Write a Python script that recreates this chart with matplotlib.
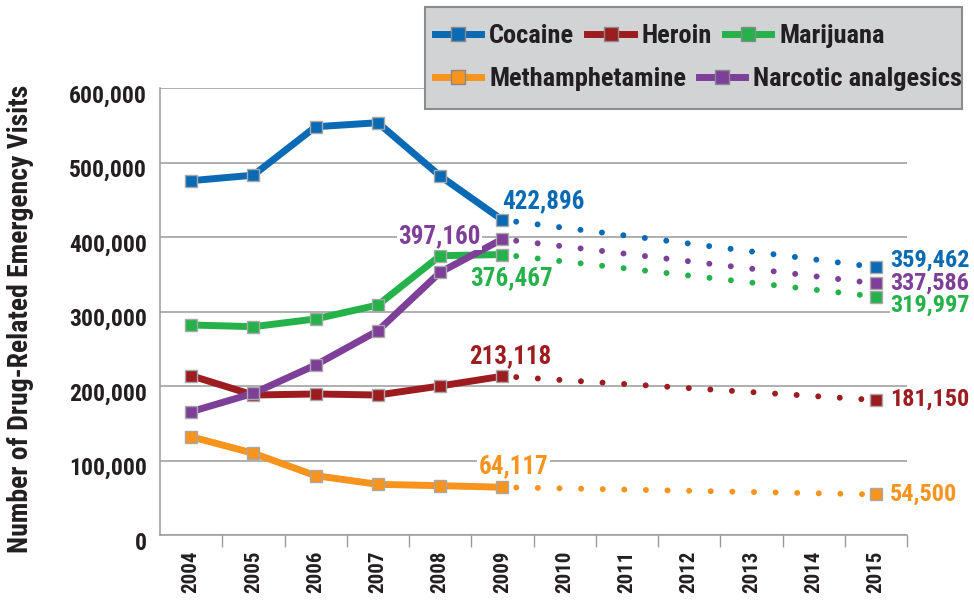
import numpy as np
import matplotlib
matplotlib.use("Agg")
import matplotlib.pyplot as plt
from matplotlib import font_manager as fm
from matplotlib.lines import Line2D
from matplotlib.patches import Rectangle
from matplotlib.transforms import ScaledTranslation

# pick a narrow bold face if one is around (the original uses a condensed sans)
ttf = fm.fontManager.ttflist
names = {f.name for f in ttf}
family, stretch = None, 'normal'
for fam in ['Roboto Condensed', 'Liberation Sans Narrow', 'Noto Sans Condensed',
            'Open Sans Condensed', 'DejaVu Sans Condensed', 'Arial Narrow']:
    if fam in names:
        family = fam
        break
if family is None:
    narrow = [f for f in ttf if f.stretch in ('condensed', 'semi-condensed')
              and f.weight in ('bold', 700, 600, 'semibold')]
    if narrow:
        pref = [f for f in narrow if f.stretch == 'condensed'] or narrow
        family, stretch = pref[0].name, pref[0].stretch
    else:
        family = 'Roboto'

plt.rcParams['font.family'] = [family, 'DejaVu Sans']
plt.rcParams['font.stretch'] = stretch
plt.rcParams['font.weight'] = 'bold'
plt.rcParams['axes.labelweight'] = 'bold'
plt.rcParams['lines.scale_dashes'] = False

years = ["2004", "2005", "2006", "2007", "2008", "2009",
         "2010", "2011", "2012", "2013", "2014", "2015"]
drugs = ["Cocaine", "Heroin", "Marijuana", "Methamphetamine", "Narcotic analgesics"]
colors = ["#0a6ab4", "#9c1c20", "#25b24a", "#f7941e", "#7d3f98"]

# observed 2004-2009
cocaine = [475600, 483000, 548000, 553400, 481900, 422896]
heroin = [213800, 187900, 189300, 187900, 200000, 213118]
marijuana = [281900, 279600, 290000, 308700, 374900, 376467]
meth = [131900, 109700, 79600, 68000, 66200, 64117]
narcotic = [165500, 190200, 228200, 274200, 352600, 397160]
observed = [cocaine, heroin, marijuana, meth, narcotic]

# projected 2015
projected = [359462, 181150, 319997, 54500, 337586]

# label offsets (points) for the 2009 value and the 2015 value
lab09 = [(0, 8.6, 'left', False), (5.8, 9.1, 'center', False), (6.5, -22.3, 'center', False),
         (-17, 10, 'left', True), (-15.8, -2.9, 'right', True)]
lab15 = [(0.5, False), (-4.3, False), (-10.8, True), (-4.8, False), (-4.6, False)]

TXT = "#231f20"
GRID = "#9a9a9a"

fig = plt.figure(figsize=(9.74, 6.03), dpi=100)
ax = fig.add_axes([160/974, 1-535/603, (907-160)/974, (535-88)/603])

x = np.arange(len(years))
n_obs = len(cocaine)
for vals, proj, c, lo, l15 in zip(observed, projected, colors, lab09, lab15):
    ax.plot(x[:n_obs], vals, color=c, lw=5, marker='s', ms=8.8,
            mec='#a8a8a8', mew=1, solid_joinstyle='miter', zorder=3)
    ax.plot([x[n_obs-1], x[-1]], [vals[-1], proj], color=c, lw=4.3,
            linestyle=(5.55, (0.01, 15.55)), dash_capstyle='round', zorder=2)
    ax.plot([x[-1]], [proj], marker='s', ms=8.8, color=c, mec='#a8a8a8', mew=1, zorder=3)
    dx, dy, ha, box = lo
    t = ax.annotate(f"{vals[-1]:,}", xy=(x[n_obs-1], vals[-1]), xytext=(dx, dy),
                    textcoords='offset points', ha=ha, va='baseline', color=c,
                    fontsize=18, zorder=4)
    if box:
        t.set_bbox(dict(facecolor='white', edgecolor='none', pad=1))
    t = ax.annotate(f"{proj:,}", xy=(x[-1], proj), xytext=(10, l15[0]),
                    textcoords='offset points', ha='left', va='baseline', color=c,
                    fontsize=17.5, annotation_clip=False, zorder=4)
    if l15[1]:
        t.set_bbox(dict(facecolor='white', edgecolor='none', pad=0))

ax.set_xlim(-0.5, len(years) - 0.5)
ax.set_ylim(0, 600000)
ax.set_yticks(np.arange(0, 600001, 100000))
ax.set_yticklabels([f"{v:,}" for v in range(0, 600001, 100000)], fontsize=17, color=TXT)
ax.tick_params(axis='y', length=0, pad=9.6)
off = ScaledTranslation(0, -4/72, fig.dpi_scale_trans)
for lab in ax.get_yticklabels():
    lab.set_transform(lab.get_transform() + off)

ax.set_xticks(x)
ax.set_xticklabels(years, rotation=90, fontsize=15, color=TXT)
ax.set_xticks(np.arange(0.5, len(years), 1), minor=True)
ax.tick_params(axis='x', which='major', length=0, pad=11.5)
ax.tick_params(axis='x', which='minor', length=8.6, color=GRID, width=1)

ax.yaxis.grid(True, color=GRID, lw=1.1)
ax.set_axisbelow(True)
for s in ['top', 'right']:
    ax.spines[s].set_visible(False)
for s in ['left', 'bottom']:
    ax.spines[s].set_color(GRID)
    ax.spines[s].set_linewidth(1.1)

ax.set_ylabel("Number of Drug-Related Emergency Visits", fontsize=20, color=TXT)
ax.yaxis.set_label_coords(-126/747, 0.483)

# legend box
fig.patches.append(Rectangle((425/974, 1-109/603), 536.7/974, 102.3/603,
                             transform=fig.transFigure, facecolor='#d1d3d4',
                             edgecolor='#8c8c8c', lw=1.5, zorder=3))

def handle(c):
    return Line2D([], [], color=c, lw=5, marker='s', ms=9.5, mec='#8a8a8a', mew=1)

rows = [[0, 1, 2], [3, 4]]
row_y = [36, 79]
for r, yy in zip(rows, row_y):
    leg = fig.legend([handle(colors[i]) for i in r], [drugs[i] for i in r],
                     loc='center left', bbox_to_anchor=(435/974, 1-yy/603),
                     ncol=len(r), frameon=False, fontsize=19, handlelength=1.75,
                     handletextpad=0.3, columnspacing=0.5, borderpad=0,
                     borderaxespad=0)
    for t in leg.get_texts():
        t.set_color(TXT)
    leg.set_zorder(5)

fig.savefig("out.png", dpi=100)
